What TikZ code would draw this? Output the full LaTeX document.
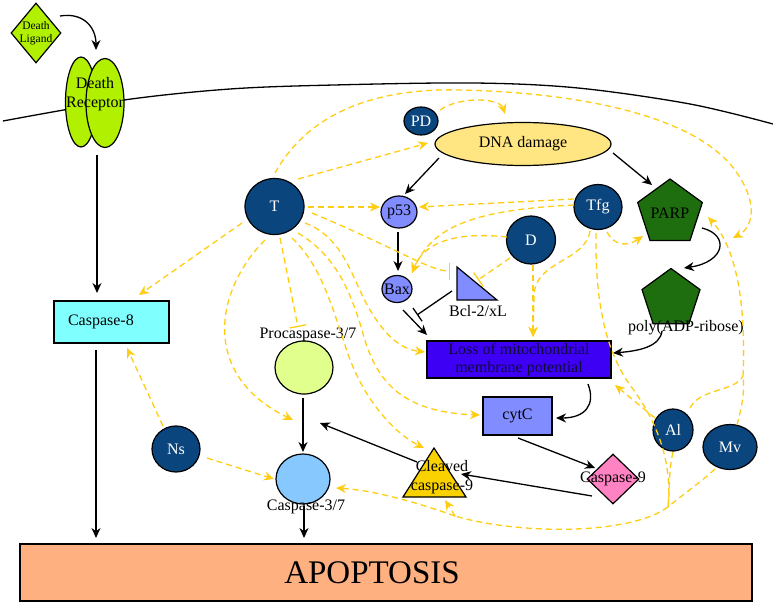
\documentclass[tikz,border=0pt]{standalone}
\usepackage{fontspec}
\setmainfont{Liberation Serif}
\usetikzlibrary{shapes.geometric,arrows.meta,calc}
\definecolor{navyc}{RGB}{10,70,125}
\definecolor{limec}{RGB}{176,240,0}
\definecolor{cyanc}{RGB}{128,255,255}
\definecolor{apopc}{RGB}{255,176,128}
\definecolor{dnac}{RGB}{255,230,130}
\definecolor{peric}{RGB}{128,140,255}
\definecolor{lossc}{RGB}{62,0,245}
\definecolor{losstext}{RGB}{15,10,60}
\definecolor{pinkc}{RGB}{255,130,195}
\definecolor{goldc}{RGB}{250,210,0}
\definecolor{proc}{RGB}{225,255,140}
\definecolor{cttc}{RGB}{135,200,255}
\definecolor{parpc}{RGB}{30,110,15}
\definecolor{ylw}{RGB}{255,205,20}
\begin{document}
\begin{tikzpicture}[x=1pt,y=-1pt,
  ft/.style={font=\fontsize{16}{18}\selectfont},
  ol/.style={draw=black, line width=1.2pt},
  agent/.style={ellipse, ol, fill=navyc, inner sep=0pt},
  blk/.style={line width=1.3pt, -{Stealth[length=10pt,width=9pt]}},
  blkbar/.style={line width=1.3pt, -{Bar[width=16pt]}},
  ya/.style={draw=ylw, line width=1.3pt, dash pattern=on 6pt off 4pt, -{Stealth[length=10pt,width=9pt]}},
  yl/.style={draw=ylw, line width=1.3pt, dash pattern=on 6pt off 4pt},
  ybar/.style={draw=ylw, line width=1.3pt, dash pattern=on 6pt off 4pt, -{Bar[width=17pt]}}]
\path[fill=white, use as bounding box] (0,0) rectangle (773,607);

% membrane
\draw[line width=1.3pt] plot[smooth, tension=0.55] coordinates {(3,121) (124,100) (230,89) (334,85) (474,83) (578,88) (690,104) (773,124)};

% nodes
\node[diamond, ol, fill=limec, minimum width=50pt, minimum height=60pt, inner sep=0pt,
  label={[font=\fontsize{11.5}{13}\selectfont, align=center]center:Death\\Ligand}] (lig) at (36,33) {};
\node[ellipse, ol, fill=limec, minimum width=31pt, minimum height=90pt, inner sep=0pt] (recL) at (81,102) {};
\node[ellipse, ol, fill=limec, minimum width=38pt, minimum height=89pt, inner sep=0pt] (recR) at (105,103) {};
\node[align=center, font=\fontsize{16}{19}\selectfont] (recT) at (95,94) {Death\\Receptor};

\node[rectangle, ol, fill=cyanc, minimum width=115pt, minimum height=42pt, inner xsep=14pt, text width=87pt, align=left, ft] (casp8) at (111.5,322) {Caspase-8};
\node[rectangle, ol, fill=apopc, minimum width=732pt, minimum height=57pt, inner sep=0pt,
  label={[font=\fontsize{33}{36}\selectfont, xshift=-14pt]center:APOPTOSIS}] (apop) at (386,572.5) {};

\node[agent, minimum width=59pt, minimum height=56pt, label={[ft,text=white]center:T}] (T) at (274.5,206.5) {};
\node[agent, minimum width=34pt, minimum height=28pt, label={[ft,text=white]center:PD}] (PD) at (421,121) {};
\node[agent, minimum width=48pt, minimum height=45pt, label={[ft,text=white]center:Tfg}] (Tfg) at (598,207) {};
\node[agent, minimum width=49pt, minimum height=48pt, label={[ft,text=white]center:D}] (D) at (531,240) {};
\node[agent, minimum width=48pt, minimum height=46pt, label={[ft,text=white]center:Ns}] (Ns) at (176,449) {};
\node[agent, minimum width=40pt, minimum height=42pt, label={[ft,text=white]center:Al}] (Al) at (673,430) {};
\node[agent, minimum width=54pt, minimum height=45pt, label={[ft,text=white]center:Mv}] (Mv) at (730,447) {};

\node[ellipse, ol, fill=dnac, minimum width=176pt, minimum height=43pt, inner sep=0pt, ft] (dna) at (523,144) {DNA damage};
\node[ellipse, ol, fill=peric, minimum width=36pt, minimum height=32pt, inner sep=0pt, label={[ft]center:p53}] (p53) at (399,212) {};
\node[ellipse, ol, fill=peric, minimum width=30pt, minimum height=27pt, inner sep=0pt, label={[ft]center:Bax}] (bax) at (397,289) {};
\filldraw[ol, fill=peric] (457,267) -- (497,300) -- (457,300) -- cycle;
\coordinate (bcl) at (470,289);
\node[ft] (bclT) at (478,311) {Bcl-2/xL};

\node[rectangle, ol, fill=lossc, minimum width=184pt, minimum height=37pt, inner sep=0pt, align=center, text=losstext, font=\fontsize{16}{18}\selectfont] (loss) at (519,359.5) {Loss of mitochondrial\\membrane potential};
\node[rectangle, ol, fill=peric, minimum width=69pt, minimum height=38pt, ft] (cytc) at (517.5,416) {cytC};
\node[diamond, ol, fill=pinkc, minimum width=52pt, minimum height=50pt, inner sep=0pt, label={[ft]center:Caspase-9}] (c9) at (613,479) {};
\filldraw[ol, fill=goldc] (434,448) -- (466,497) -- (403,497) -- cycle;
\node[align=center, font=\fontsize{16}{19}\selectfont] (cc9) at (442,477) {Cleaved\\caspase-9};

\node[ellipse, ol, fill=proc, minimum width=58pt, minimum height=53pt, inner sep=0pt] (pro) at (304,367.5) {};
\node[ft] (proT) at (308,335) {Procaspase-3/7};
\node[ellipse, ol, fill=cttc, minimum width=54pt, minimum height=50pt, inner sep=0pt] (c37) at (303,479) {};
\node[ft] (c37T) at (306,507) {Caspase-3/7};

\node[regular polygon, regular polygon sides=5, ol, fill=parpc, minimum size=68pt, inner sep=0pt, label={[ft]center:PARP}] (parp) at (670,213) {};
\node[regular polygon, regular polygon sides=5, ol, fill=parpc, minimum size=61pt, inner sep=0pt] (poly) at (671,299) {};
\node[ft] (polyT) at (686,328) {poly(ADP-ribose)};

\coordinate (M) at (668,507);
\coordinate (J) at (743,376);
\coordinate (B) at (455,516);

% black connectors
\draw[blk] ($(lig)+(24,-17)$) .. controls +(24,-4) and +(0,-22) .. ($(recR)+(-9,-53)$);
\draw[blk] ($(recR)+(-8,52)$) -- ($(casp8)+(-14.5,-29)$);
\draw[blk] ($(casp8)+(-15.5,28)$) -- ($(apop)+(-290,-34.5)$);
\draw[blk] ($(dna)+(-84,14)$) -- ($(p53)+(6,-18)$);
\draw[blk] ($(dna)+(90,9)$) -- ($(parp)+(-18,-28)$);
\draw[blk] ($(p53)+(-1,20)$) -- ($(bax)+(1,-18)$);
\draw[blk] ($(bax)+(6,21)$) -- ($(loss)+(-92,-24.5)$);
\draw[blkbar] ($(bcl)+(-18,2)$) -- ($(bax)+(20,26)$);
\draw[blk] ($(poly)+(-9,32)$) .. controls +(-2,16) and +(25,-2) .. ($(loss)+(94,-6.5)$);
\draw[blk] ($(parp)+(32,15)$) .. controls +(28,7) and +(41,-6) .. ($(poly)+(13,-31)$);
\draw[blk] ($(loss)+(69,24.5)$) .. controls +(8,21) and +(29,0) .. ($(cytc)+(38.5,2)$);
\draw[blk] ($(cytc)+(0.5,22)$) -- ($(c9)+(-18,-11)$);
\draw[blk] ($(c9)+(-21,17)$) -- ($(cc9)+(19,-3)$);
\draw[blk] ($(cc9)+(-25,-15)$) -- ($(pro)+(16,55.5)$);
\draw[blk] ($(pro)+(-1,30.5)$) -- ($(c37)+(0,-27)$);
\draw[blk] ($(c37)+(1,27)$) -- ($(apop)+(-82,-34.5)$);

% yellow dashed connectors
\draw[ya] ($(T)+(-32.5,16.5)$) -- ($(casp8)+(27.5,-27)$);
\draw[ya] ($(T)+(23.5,-27.5)$) -- ($(dna)+(-95,-1)$);
\draw[ya] ($(T)+(0.5,-33.5)$) .. controls (310,110) and (380,88) .. (460,90)
   .. controls (560,92) and (690,110) .. (735,170)
   .. controls (760,205) and (752,228) .. ($(parp)+(63,25)$);
\draw[ya] ($(PD)+(19,-11)$) .. controls +(20,-14) and +(-5,-16) .. ($(dna)+(-18,-30)$);
\draw[ya] ($(T)+(33.5,0.5)$) -- ($(p53)+(-19,-5)$);
\draw[ya] ($(Tfg)+(-24,-8)$) -- ($(p53)+(20,-5)$);
\draw[ya] ($(Tfg)+(-24,-2)$) .. controls (470,210) and (432,228) .. ($(bax)+(15,-16)$);
\draw[ya] ($(D)+(-24,-3)$) .. controls (460,232) and (425,240) .. ($(bax)+(15,-16)$);
\draw[ybar] ($(T)+(37.5,6.5)$) .. controls (400,250) and (430,271) .. ($(bcl)+(-20,-18)$);
\draw[ybar] ($(D)+(-21,18)$) -- ($(bcl)+(8,-9)$);
\draw[ybar] ($(T)+(5.5,31.5)$) -- ($(pro)+(-6,-40.5)$);
\draw[ya] ($(T)+(-9.5,33.5)$) .. controls (215,290) and (200,375) .. ($(pro)+(-11,52.5)$);
\draw[ya] ($(T)+(30.5,16.5)$) .. controls (345,238) and (352,280) .. (370,310)
   .. controls (385,335) and (400,349) .. ($(loss)+(-94,-7.5)$);
\draw[ya] ($(T)+(23.5,26.5)$) .. controls (335,255) and (350,290) .. (362,330)
   .. controls (375,380) and (400,412) .. ($(cytc)+(-37.5,-1)$);
\draw[ya] ($(T)+(17.5,31.5)$) .. controls (320,265) and (330,300) .. (345,345)
   .. controls (360,395) and (392,432) .. ($(cc9)+(-18,-29)$);
\draw[ya] ($(Ns)+(-13,-23)$) -- ($(casp8)+(15.5,26)$);
\draw[ya] ($(Ns)+(31,9)$) -- ($(c37)+(-29,0)$);
\draw[ya] ($(Tfg)+(9,25)$) .. controls (615,247) and (628,246) .. ($(parp)+(-27,23)$);
\draw[ya] ($(D)+(2,25)$) -- ($(loss)+(14,-22.5)$);
\draw[ya] ($(Tfg)+(-8,24)$) .. controls (585,262) and (536,260) .. (534,295) -- ($(loss)+(14,-22.5)$);
\draw[yl] ($(Tfg)+(-2,26)$) .. controls (595,300) and (605,350) .. (630,385)
   .. controls (660,425) and (672,465) .. (M);
\draw[ya] ($(Al)+(-18,-12)$) -- ($(loss)+(96,25.5)$);
\draw[yl] ($(Al)+(17,-22)$) .. controls (700,388) and (735,392) .. (J);
\draw[yl] ($(Mv)+(7,-22)$) .. controls (742,405) and (745,392) .. (J);
\draw[ya] (J) .. controls (746,310) and (738,250) .. ($(parp)+(38,4)$);
\draw[yl] ($(Al)+(0,22)$) .. controls (668,475) and (670,490) .. (M);
\draw[yl] ($(Mv)+(-15,22)$) .. controls (700,483) and (682,495) .. (M);
\draw[yl] (M) .. controls (630,535) and (520,535) .. (B);
\draw[ya] (B) -- ($(cc9)+(3,23)$);
\draw[ya] (B) .. controls (410,500) and (370,490) .. ($(c37)+(33,9)$);
\end{tikzpicture}
\end{document}
